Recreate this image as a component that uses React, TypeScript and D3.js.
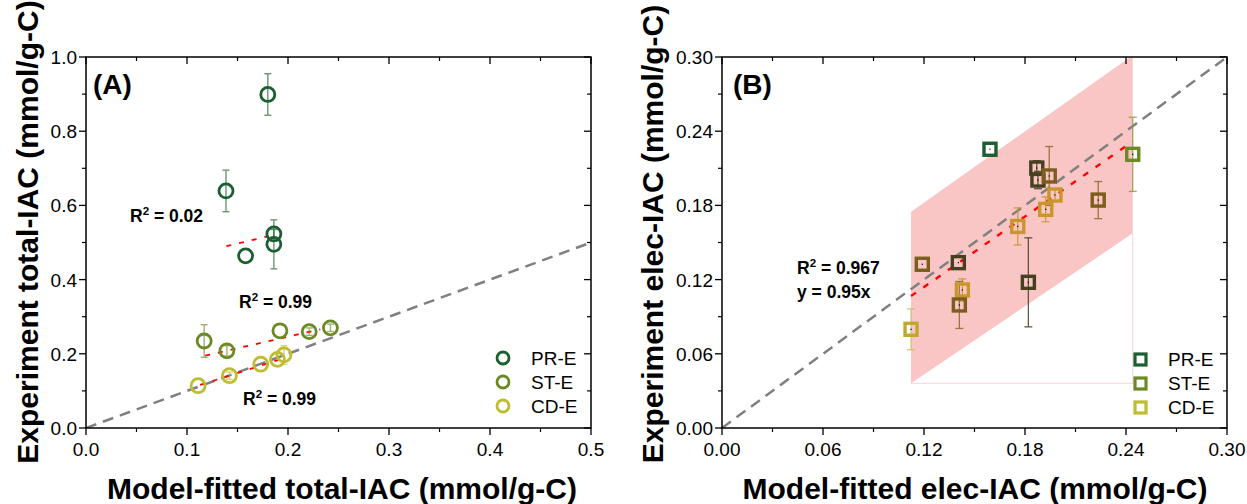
import React from "react";
import * as d3 from "d3";

// ---------- data ----------
const seriesNames = ["PR-E", "ST-E", "CD-E"];
const seriesColors = ["#1b5e30", "#6b8a26", "#bdbd2f"];

// Panel A: total-IAC (model x, experiment y, error)
const prA_x = [0.180, 0.1386, 0.186, 0.186, 0.158];
const prA_y = [0.899, 0.639, 0.523, 0.495, 0.464];
const prA_e = [0.056, 0.056, 0.012, 0.066, 0];

const stA_x = [0.117, 0.1395, 0.192, 0.221, 0.242];
const stA_y = [0.2345, 0.208, 0.262, 0.2597, 0.270];
const stA_e = [0.044, 0.014, 0, 0.01, 0.01];

const cdA_x = [0.111, 0.142, 0.173, 0.1895, 0.196];
const cdA_y = [0.114, 0.141, 0.172, 0.185, 0.197];
const cdA_e = [0, 0.01, 0, 0, 0.025];

// fitted lines in panel A (x0, y0, x1, y1)
const fitA_pr = [0.139, 0.49, 0.181, 0.517];
const fitA_st = [0.118, 0.195, 0.232, 0.266];
const fitA_cd = [0.113, 0.116, 0.19, 0.183];

// Panel B: elec-IAC
const ptB_x = [0.1592, 0.1870, 0.1877, 0.1944, 0.1978, 0.1923, 0.1757, 0.2235, 0.2440, 0.1190, 0.1404, 0.1428, 0.1410, 0.1820, 0.1123];
const ptB_y = [0.2254, 0.2102, 0.2005, 0.2038, 0.1884, 0.1768, 0.1630, 0.1843, 0.2213, 0.1324, 0.1337, 0.1116, 0.0995, 0.1178, 0.0798];
const ptB_e = [0, 0.006, 0.007, 0.0238, 0.005, 0.01, 0.015, 0.015, 0.030, 0, 0, 0.009, 0.019, 0.036, 0.0165];
const ptB_tone = ["pr", "dk", "dk", "br", "gd", "gd", "gd", "br", "st", "br", "dk", "gd", "br", "dk", "cg"];
const toneColors: Record<string, string> = {
  pr: "#1b5e30",
  st: "#6b8a26",
  dk: "#45401f",
  br: "#7b5e1e",
  gd: "#c8962a",
  cg: "#bfa82a",
};
const toneBarColors: Record<string, string> = {
  pr: "#1b5e30",
  st: "#8f9a4a",
  dk: "#45401f",
  br: "#8a6a2a",
  gd: "#c8962a",
  cg: "#c9c060",
};

// confidence band in panel B: left edge, right edge (x, upper y, lower y)
const bandB_x = [0.1123, 0.2440];
const bandB_upper = [0.1749, 0.3014];
const bandB_lower = [0.0361, 0.1574];
const fitB_slope = 0.95;

const ticksA_x = [0, 0.1, 0.2, 0.3, 0.4, 0.5];
const ticksA_y = [0, 0.2, 0.4, 0.6, 0.8, 1.0];
const ticksB = [0, 0.06, 0.12, 0.18, 0.24, 0.30];

// ---------- layout ----------
const W = 1247;
const H = 504;
const FONT = "'Liberation Sans', Arial, Helvetica, sans-serif";
const TICK_FS = 19;

const xA = d3.scaleLinear().domain([0, 0.5]).range([86, 591]);
const yA = d3.scaleLinear().domain([0, 1]).range([428, 57]);
const xB = d3.scaleLinear().domain([0, 0.3]).range([722, 1227]);
const yB = d3.scaleLinear().domain([0, 0.3]).range([428, 57]);

type Scale = d3.ScaleLinear<number, number>;

function Frame({ x, y, xt, yt, xFmt, yFmt, xMinor, yMinor }: {
  x: Scale; y: Scale; xt: number[]; yt: number[];
  xFmt: (v: number) => string; yFmt: (v: number) => string;
  xMinor: number[]; yMinor: number[];
}) {
  const [x0, x1] = x.range();
  const [y0, y1] = y.range();
  const els: React.ReactNode[] = [];
  xt.forEach((v, i) => {
    const px = x(v);
    els.push(<line key={"xb" + i} x1={px} x2={px} y1={y0} y2={y0 + 7} stroke="#000" strokeWidth={1.3} />);
    els.push(<line key={"xt" + i} x1={px} x2={px} y1={y1} y2={y1 + 7} stroke="#000" strokeWidth={1.3} />);
    els.push(
      <text key={"xl" + i} x={px} y={456} textAnchor="middle" fontSize={TICK_FS} fontFamily={FONT}>{xFmt(v)}</text>
    );
  });
  xMinor.forEach((v, i) => {
    const px = x(v);
    els.push(<line key={"xmb" + i} x1={px} x2={px} y1={y0} y2={y0 + 4} stroke="#000" strokeWidth={1.2} />);
    els.push(<line key={"xmt" + i} x1={px} x2={px} y1={y1} y2={y1 + 4} stroke="#000" strokeWidth={1.2} />);
  });
  yt.forEach((v, i) => {
    const py = y(v);
    els.push(<line key={"yl" + i} x1={x0 - 7} x2={x0} y1={py} y2={py} stroke="#000" strokeWidth={1.3} />);
    els.push(<line key={"yr" + i} x1={x1 - 7} x2={x1} y1={py} y2={py} stroke="#000" strokeWidth={1.3} />);
    els.push(
      <text key={"ylab" + i} x={x0 - 9} y={py + 7} textAnchor="end" fontSize={TICK_FS} fontFamily={FONT}>{yFmt(v)}</text>
    );
  });
  yMinor.forEach((v, i) => {
    const py = y(v);
    els.push(<line key={"yml" + i} x1={x0 - 4} x2={x0} y1={py} y2={py} stroke="#000" strokeWidth={1.2} />);
    els.push(<line key={"ymr" + i} x1={x1 - 4} x2={x1} y1={py} y2={py} stroke="#000" strokeWidth={1.2} />);
  });
  els.push(
    <rect key="frame" x={x0} y={y1} width={x1 - x0} height={y0 - y1} fill="none" stroke="#000" strokeWidth={1.5} />
  );
  return <g>{els}</g>;
}

function ErrBar({ cx, cy0, cy1, color, cap = 4, width = 1.4, opacity = 0.75 }: {
  cx: number; cy0: number; cy1: number; color: string; cap?: number; width?: number; opacity?: number;
}) {
  return (
    <g stroke={color} strokeWidth={width} opacity={opacity}>
      <line x1={cx} x2={cx} y1={cy0} y2={cy1} />
      <line x1={cx - cap} x2={cx + cap} y1={cy0} y2={cy0} />
      <line x1={cx - cap} x2={cx + cap} y1={cy1} y2={cy1} />
    </g>
  );
}

function RLabel({ x, y, text }: { x: number; y: number; text: string }) {
  return (
    <text x={x} y={y} fontSize={17.5} fontWeight="bold" fontFamily={FONT}>
      R<tspan fontSize={11.5} dy={-7}>2</tspan>
      <tspan dy={7}>{" = " + text}</tspan>
    </text>
  );
}

export default function App() {
  const seriesA = [
    { xs: prA_x, ys: prA_y, es: prA_e, color: seriesColors[0] },
    { xs: stA_x, ys: stA_y, es: stA_e, color: seriesColors[1] },
    { xs: cdA_x, ys: cdA_y, es: cdA_e, color: seriesColors[2] },
  ];
  const fitsA = [fitA_pr, fitA_st, fitA_cd];

  const minorA_x = d3.range(0.05, 0.5, 0.1);
  const minorA_y = d3.range(0.1, 1.0, 0.2);
  const minorB = d3.range(0.03, 0.3, 0.06);

  const bandPath =
    `M${xB(bandB_x[0])},${yB(bandB_upper[0])}` +
    `L${xB(bandB_x[1])},${yB(bandB_upper[1])}` +
    `L${xB(bandB_x[1])},${yB(bandB_lower[1])}` +
    `L${xB(bandB_x[0])},${yB(bandB_lower[0])}Z`;

  return (
    <svg width={W} height={H} style={{ position: "absolute", left: 0, top: 0, background: "#fff" }}>
      <defs>
        <clipPath id="clipA">
          <rect x={86} y={57} width={505} height={371} />
        </clipPath>
        <clipPath id="clipB">
          <rect x={722} y={57} width={505} height={371} />
        </clipPath>
      </defs>
      <rect x={0} y={0} width={W} height={H} fill="#fff" />

      {/* ---------------- Panel A ---------------- */}
      <g clipPath="url(#clipA)">
        <line x1={xA(0)} y1={yA(0)} x2={xA(0.5)} y2={yA(0.5)} stroke="#808080" strokeWidth={2.5} strokeDasharray="11 7" />
        {fitsA.map((f, i) => (
          <line key={i} x1={xA(f[0])} y1={yA(f[1])} x2={xA(f[2])} y2={yA(f[3])} stroke="#ff0000" strokeWidth={1.8} strokeDasharray="5 8" />
        ))}
        {seriesA.map((s, si) => (
          <g key={si}>
            {s.xs.map((xv, i) =>
              s.es[i] > 0 ? (
                <ErrBar key={"e" + i} cx={xA(xv)} cy0={yA(s.ys[i] + s.es[i])} cy1={yA(s.ys[i] - s.es[i])} color={s.color} cap={3.5} opacity={0.65} />
              ) : null
            )}
            {s.xs.map((xv, i) => (
              <circle key={"c" + i} cx={xA(xv)} cy={yA(s.ys[i])} r={7} fill="none" stroke={s.color} strokeWidth={2.8} />
            ))}
          </g>
        ))}
      </g>
      <Frame x={xA} y={yA} xt={ticksA_x} yt={ticksA_y} xFmt={d3.format(".1f")} yFmt={d3.format(".1f")} xMinor={minorA_x} yMinor={minorA_y} />
      <text x={93} y={94} fontSize={28} fontWeight="bold" fontFamily={FONT}>(A)</text>
      <RLabel x={130} y={222} text="0.02" />
      <RLabel x={239} y={308} text="0.99" />
      <RLabel x={243} y={405} text="0.99" />
      {seriesNames.map((n, i) => (
        <g key={n}>
          <circle cx={503} cy={358 + i * 24} r={6} fill="none" stroke={seriesColors[i]} strokeWidth={2.8} />
          <text x={531} y={365 + i * 24} fontSize={TICK_FS} fontFamily={FONT}>{n}</text>
        </g>
      ))}
      <text x={342} y={499} textAnchor="middle" fontSize={30} fontWeight="bold" fontFamily={FONT}>
        Model-fitted total-IAC (mmol/g-C)
      </text>
      <text transform={`translate(38,232) rotate(-90)`} textAnchor="middle" fontSize={30} fontWeight="bold" fontFamily={FONT}>
        Experiment total-IAC (mmol/g-C)
      </text>

      {/* ---------------- Panel B ---------------- */}
      <g clipPath="url(#clipB)">
        <path d={bandPath} fill="#f9c5c5" />
        <polyline
          points={`${xB(bandB_x[0])},${yB(bandB_lower[0])} ${xB(bandB_x[1])},${yB(bandB_lower[0])} ${xB(bandB_x[1])},${yB(bandB_lower[1])}`}
          fill="none" stroke="#fbd3d8" strokeWidth={1}
        />
        <line x1={xB(0)} y1={yB(0)} x2={xB(0.3)} y2={yB(0.3)} stroke="#808080" strokeWidth={2.5} strokeDasharray="11 7" />
        <line x1={xB(bandB_x[0])} y1={yB(fitB_slope * bandB_x[0])} x2={xB(bandB_x[1])} y2={yB(fitB_slope * bandB_x[1])} stroke="#ff0000" strokeWidth={2.4} strokeDasharray="6 9" />
        {ptB_x.map((xv, i) =>
          ptB_e[i] > 0 ? (
            <ErrBar key={"be" + i} cx={xB(xv)} cy0={yB(ptB_y[i] + ptB_e[i])} cy1={yB(ptB_y[i] - ptB_e[i])} color={toneBarColors[ptB_tone[i]]} cap={4} width={1.3} opacity={0.85} />
          ) : null
        )}
        {ptB_x.map((xv, i) => (
          <g key={"bs" + i}>
            <rect x={xB(xv) - 6} y={yB(ptB_y[i]) - 6} width={12} height={12} fill="none" stroke={toneColors[ptB_tone[i]]} strokeWidth={3.4} />
            <rect x={xB(xv) - 0.6} y={yB(ptB_y[i]) - 0.6} width={1.2} height={1.2} fill="#000" />
          </g>
        ))}
      </g>
      <Frame x={xB} y={yB} xt={ticksB} yt={ticksB} xFmt={d3.format(".2f")} yFmt={d3.format(".2f")} xMinor={minorB} yMinor={minorB} />
      <text x={733} y={94} fontSize={28} fontWeight="bold" fontFamily={FONT}>(B)</text>
      <RLabel x={797} y={274} text="0.967" />
      <text x={797} y={298} fontSize={17.5} fontWeight="bold" fontFamily={FONT}>y = 0.95x</text>
      {seriesNames.map((n, i) => (
        <g key={"lb" + n}>
          <rect x={1135} y={354 + i * 24} width={11} height={11} fill="none" stroke={seriesColors[i]} strokeWidth={3.2} />
          <text x={1168} y={366 + i * 24} fontSize={TICK_FS} fontFamily={FONT}>{n}</text>
        </g>
      ))}
      <text x={975} y={499} textAnchor="middle" fontSize={30} fontWeight="bold" fontFamily={FONT}>
        Model-fitted elec-IAC (mmol/g-C)
      </text>
      <text transform={`translate(663,234) rotate(-90)`} textAnchor="middle" fontSize={30} fontWeight="bold" fontFamily={FONT}>
        Experiment elec-IAC (mmol/g-C)
      </text>
    </svg>
  );
}
